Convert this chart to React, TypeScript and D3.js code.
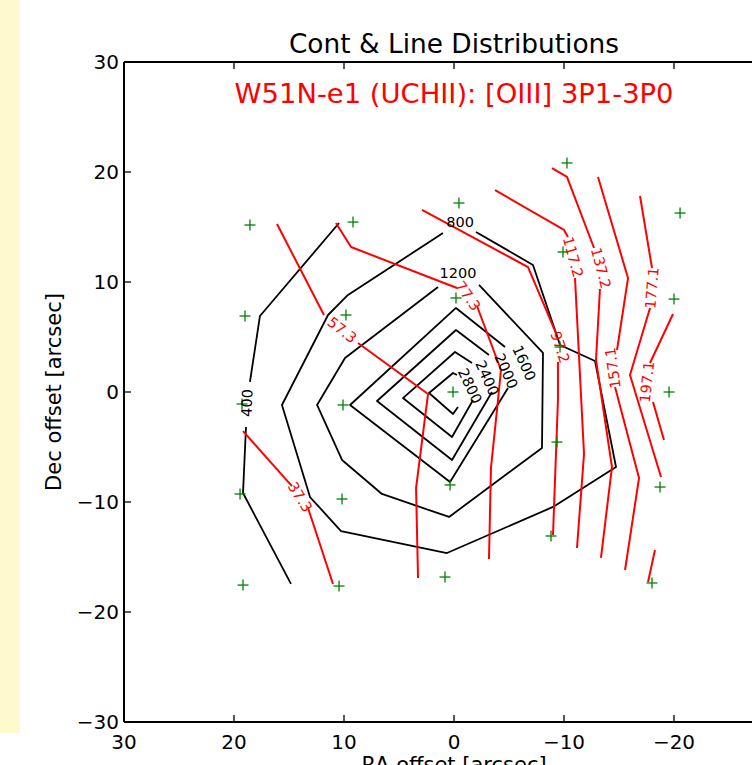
import React from 'react';
import * as d3 from 'd3';

// ---- data (RA offset, Dec offset in arcsec) ----
const xTicks = [30, 20, 10, 0, -10, -20, -30];
const xTickLabels = [30, 20, 10, 0, -10, -20];
const yTicks = [-30, -20, -10, 0, 10, 20, 30];

const titleText = 'Cont & Line Distributions';
const subtitleText = 'W51N-e1 (UCHII): [OIII] 3P1-3P0';
const xLabel = 'RA offset [arcsec]';
const yLabel = 'Dec offset [arcsec]';

const markers: [number, number][] = [
  [18.55, 15.18], [9.18, 15.45], [-0.45, 17.18], [-10.27, 20.82], [-20.55, 16.27],
  [19.0, 6.91], [9.82, 7.0], [-0.18, 8.55], [-9.91, 12.73], [-20.0, 8.45],
  [-9.64, 4.09], [19.27, -1.09], [10.09, -1.18], [0.09, 0], [-19.55, 0],
  [-9.36, -4.55], [19.45, -9.27], [10.18, -9.73], [0.36, -8.45], [-18.73, -8.64],
  [-8.82, -13.09], [19.18, -17.55], [10.45, -17.64], [0.82, -16.82], [-18.0, -17.36],
];

// continuum contours (black)
const cont400 = [
  [[10.45, 15.36], [17.64, 6.91], [18.55, 0.91]],
  [[18.91, -3.18], [19.18, -9.18], [14.82, -17.45]],
];
const cont800 = [
  [[-2.0, 14.55], [-7.18, 11.55], [-9.64, 4.27], [-12.82, 2.82], [-14.73, -6.82], [-9.0, -10.45],
   [0.64, -14.64], [10.27, -12.64], [13.09, -9.55], [15.64, -1.18], [11.45, 7.0], [9.64, 8.82], [1.0, 14.45]],
];
const cont1200 = [
  [[-2.27, 9.73], [-8.09, 3.55], [-8.0, -5.09], [0.45, -11.36], [6.55, -9.27], [10.18, -6.18],
   [12.45, -1.18], [9.91, 3.09], [1.45, 9.55]],
];
const cont1600 = [[[-4.64, 4.09], [-0.18, 7.64], [9.45, -1.18], [0.36, -8.18], [-4.91, 0.36]]];
const cont2000 = [[[-3.18, 3.36], [-0.18, 5.64], [7.0, -0.82], [0.18, -6.18], [-3.45, 0.0]]];
const cont2400 = [[[-1.64, 2.64], [-0.09, 3.64], [4.64, -0.55], [0.18, -4.09], [-1.73, -0.73]]];
const cont2800 = [[[-0.27, 1.55], [0.09, 1.73], [2.27, -0.09], [0.09, -2.0], [-0.36, -1.36]]];
const contours = [cont400, cont800, cont1200, cont1600, cont2000, cont2400, cont2800];

const contLabels = [
  { text: '400', ra: 18.82, dec: -1.0, rot: -88 },
  { text: '800', ra: -0.55, dec: 15.45, rot: 0 },
  { text: '1200', ra: -0.36, dec: 10.82, rot: 0 },
  { text: '1600', ra: -6.36, dec: 2.64, rot: 66 },
  { text: '2000', ra: -4.73, dec: 1.91, rot: 66 },
  { text: '2400', ra: -3.0, dec: 1.27, rot: 66 },
  { text: '2800', ra: -1.45, dec: 0.55, rot: 65 },
];

// line contours (red)
const line37 = [
  [[19.18, -3.55], [14.73, -8.55]],
  [[13.27, -10.55], [11.0, -17.45]],
];
const line57 = [
  [[16.09, 15.27], [11.82, 7.0]],
  [[8.73, 4.45], [2.36, -0.18], [3.45, -8.73], [3.27, -16.91]],
];
const line77 = [
  [[10.73, 15.36], [9.36, 13.18], [-0.27, 9.45]],
  [[-2.09, 7.82], [-4.27, 2.0], [-4.0, -0.73], [-3.36, -6.91], [-3.18, -15.18]],
];
const line97 = [
  [[2.91, 16.55], [-6.73, 11.36], [-9.27, 5.36]],
  [[-9.45, 2.73], [-9.45, -0.73], [-9.0, -13.0]],
];
const line117 = [
  [[-3.73, 18.36], [-10.0, 14.73], [-10.36, 14.09]],
  [[-11.0, 10.36], [-11.82, -5.64], [-11.18, -14.18]],
];
const line137 = [
  [[-8.91, 20.36], [-10.27, 19.55], [-12.73, 13.09]],
  [[-13.27, 9.36], [-12.91, 2.91], [-14.36, -6.82], [-13.36, -15.09]],
];
const line157 = [
  [[-13.09, 19.55], [-15.82, 10.36], [-14.82, 3.82]],
  [[-14.64, 0.45], [-16.82, -7.82], [-15.55, -16.18]],
];
const line177 = [
  [[-16.91, 17.82], [-18.0, 11.27]],
  [[-17.82, 7.64], [-16.0, 1.55], [-18.82, -7.73]],
];
const line197 = [
  [[-19.91, 7.09], [-17.82, 2.64]],
  [[-18.09, -0.91], [-19.09, -4.36]],
  [[-18.27, -14.36], [-17.64, -17.27]],
];
const lines = [line37, line57, line77, line97, line117, line137, line157, line177, line197];

const lineLabels = [
  { text: '37.3', ra: 14.0, dec: -9.55, rot: 58 },
  { text: '57.3', ra: 10.18, dec: 5.64, rot: 38 },
  { text: '77.3', ra: -1.27, dec: 8.73, rot: 55 },
  { text: '97.2', ra: -9.64, dec: 4.09, rot: 72 },
  { text: '117.2', ra: -10.82, dec: 12.27, rot: 75 },
  { text: '137.2', ra: -13.36, dec: 11.27, rot: 75 },
  { text: '157.1', ra: -14.45, dec: 2.18, rot: -98 },
  { text: '177.1', ra: -18.0, dec: 9.45, rot: -85 },
  { text: '197.1', ra: -17.55, dec: 0.91, rot: -84 },
];

const fmt = (v: number) => (v < 0 ? '\u2212' + Math.abs(v) : String(v));

export default function App() {
  const left = 124, right = 784, top = 62, bottom = 722;
  const x = d3.scaleLinear().domain([30, -30]).range([left, right]);
  const y = d3.scaleLinear().domain([-30, 30]).range([bottom, top]);
  const line = d3.line<number[]>().x(d => x(d[0])).y(d => y(d[1]));
  const font = 'DejaVu Sans, Bitstream Vera Sans, sans-serif';
  const tickLen = 7;

  return (
    <svg width={752} height={765} style={{ position: 'absolute', left: 0, top: 0 }} fontFamily={font}>
      <rect x={0} y={0} width={752} height={765} fill="#ffffff" />
      <rect x={0} y={0} width={20} height={733} fill="#fefacd" />

      {/* contours */}
      <g fill="none" stroke="#000" strokeWidth={1.8} strokeLinejoin="round">
        {contours.map((c, i) => c.map((seg, j) => <path key={`c${i}-${j}`} d={line(seg) || ''} />))}
      </g>
      <g fill="none" stroke="#ff0000" strokeWidth={2} strokeLinejoin="round">
        {lines.map((c, i) => c.map((seg, j) => <path key={`l${i}-${j}`} d={line(seg) || ''} />))}
      </g>

      {/* markers */}
      <g stroke="#008000" strokeWidth={1.3}>
        {markers.map((m, i) => (
          <g key={`m${i}`}>
            <line x1={x(m[0]) - 5.5} x2={x(m[0]) + 5.5} y1={y(m[1])} y2={y(m[1])} />
            <line x1={x(m[0])} x2={x(m[0])} y1={y(m[1]) - 5.5} y2={y(m[1]) + 5.5} />
          </g>
        ))}
      </g>

      {/* contour labels */}
      <g fontSize={14.5} textAnchor="middle" dominantBaseline="central">
        {contLabels.map((l, i) => (
          <text key={`cl${i}`} transform={`translate(${x(l.ra)},${y(l.dec)}) rotate(${l.rot})`} fill="#000">{l.text}</text>
        ))}
        {lineLabels.map((l, i) => (
          <text key={`ll${i}`} transform={`translate(${x(l.ra)},${y(l.dec)}) rotate(${l.rot})`} fill="#ff0000">{l.text}</text>
        ))}
      </g>

      {/* axes frame */}
      <g stroke="#000" strokeWidth={2} fill="none">
        <line x1={left} x2={left} y1={top} y2={bottom} />
        <line x1={right} x2={right} y1={top} y2={bottom} />
        <line x1={left} x2={right} y1={top} y2={top} />
        <line x1={left} x2={right} y1={bottom} y2={bottom} />
      </g>
      <g stroke="#000" strokeWidth={1.3}>
        {xTicks.map(t => (
          <g key={`xt${t}`}>
            <line x1={x(t)} x2={x(t)} y1={bottom} y2={bottom - tickLen} />
            <line x1={x(t)} x2={x(t)} y1={top} y2={top + tickLen} />
          </g>
        ))}
        {yTicks.map(t => (
          <g key={`yt${t}`}>
            <line x1={left} x2={left + tickLen} y1={y(t)} y2={y(t)} />
            <line x1={right} x2={right - tickLen} y1={y(t)} y2={y(t)} />
          </g>
        ))}
      </g>
      <g fontSize={20} fill="#000">
        {xTickLabels.map(t => (
          <text key={`xl${t}`} x={x(t)} y={749} textAnchor="middle">{fmt(t)}</text>
        ))}
        {yTicks.map(t => (
          <text key={`yl${t}`} x={left - 5} y={y(t)} textAnchor="end" dominantBaseline="central">{fmt(t)}</text>
        ))}
      </g>

      <text x={(left + right) / 2} y={53} textAnchor="middle" fontSize={26.4} fill="#000">{titleText}</text>
      <text x={(left + right) / 2} y={103} textAnchor="middle" fontSize={27.4} fill="#ff0000">{subtitleText}</text>
      <text x={(left + right) / 2} y={772} textAnchor="middle" fontSize={21} fill="#000">{xLabel}</text>
      <text transform={`translate(61,${(top + bottom) / 2}) rotate(-90)`} textAnchor="middle" fontSize={21} fill="#000">{yLabel}</text>
    </svg>
  );
}
